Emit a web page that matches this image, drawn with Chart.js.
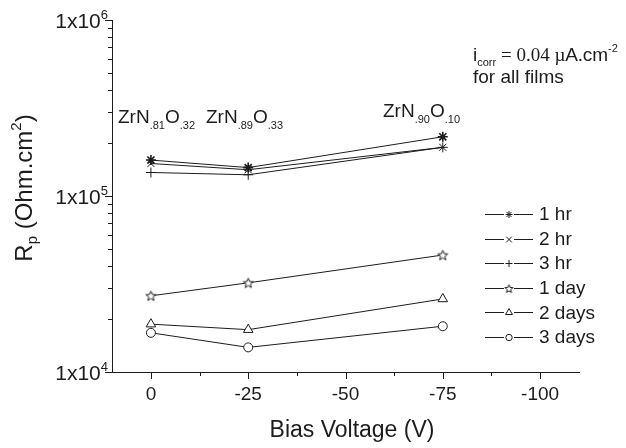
<!DOCTYPE html>
<html>
<head>
<meta charset="utf-8">
<script src="https://cdn.jsdelivr.net/npm/chart.js@4.4.0/dist/chart.umd.min.js"></script>
<style>
html, body { margin: 0; padding: 0; background: #fff; }
#wrap { width: 626px; height: 448px; }
</style>
</head>
<body>
<div id="wrap"><canvas id="rpChart" width="626" height="448"></canvas></div>
<script>
// values (Rp in Ohm.cm2)
const biasVoltages = [0, -25, -75];
const rp1hr = [1.60e5, 1.45e5, 2.17e5];
const rp2hr = [1.53e5, 1.41e5, 1.89e5];
const rp3hr = [1.36e5, 1.32e5, 1.89e5];
const rp1day = [2.71e4, 3.21e4, 4.62e4];
const rp2days = [1.87e4, 1.74e4, 2.60e4];
const rp3days = [1.67e4, 1.38e4, 1.82e4];
const seriesLabels = ['1 hr', '2 hr', '3 hr', '1 day', '2 days', '3 days'];
const xTickValues = [0, -25, -50, -75, -100];
const xMinorValues = [-12.5, -37.5, -62.5, -87.5];
const yTickExponents = [4, 5, 6];

const SANS = '"Liberation Sans", Arial, sans-serif';
const SERIF = '"Liberation Serif", "Times New Roman", serif';
const INK = '#1c1c1c';

// open five-pointed star, chart.js has no such pointStyle
function makeStar(size, outer, inner) {
    const c = document.createElement('canvas');
    c.width = size; c.height = size;
    const g = c.getContext('2d');
    const cx = size / 2, cy = size / 2 + 0.5;
    g.beginPath();
    for (let i = 0; i < 10; i++) {
        const r = i % 2 === 0 ? outer : inner;
        const a = -Math.PI / 2 + i * Math.PI / 5;
        const px = cx + r * Math.cos(a), py = cy + r * Math.sin(a);
        if (i === 0) g.moveTo(px, py); else g.lineTo(px, py);
    }
    g.closePath();
    g.fillStyle = '#fff';
    g.fill();
    g.strokeStyle = INK;
    g.lineWidth = 1;
    g.stroke();
    return c;
}
const starBig = makeStar(13, 5.2, 2.3);
const starSmall = makeStar(11, 4.3, 1.9);

const seriesValues = [rp1hr, rp2hr, rp3hr, rp1day, rp2days, rp3days];
const seriesStyles = [
    { style: 'star', r: 5, bw: 1.6, legendStyle: 'star', lr: 3.5 },
    { style: 'crossRot', r: 5, bw: 1, legendStyle: 'crossRot', lr: 4 },
    { style: 'cross', r: 5, bw: 1, legendStyle: 'cross', lr: 3.5 },
    { style: starBig, r: 5, bw: 1, legendStyle: starSmall, lr: 3.5 },
    { style: 'triangle', r: 5.5, bw: 1, legendStyle: 'triangle', lr: 4 },
    { style: 'circle', r: 4.5, bw: 1, legendStyle: 'circle', lr: 3.2 }
];

const datasets = seriesLabels.map((label, i) => ({
    label: label,
    data: biasVoltages.map((v, j) => ({ x: v, y: seriesValues[i][j] })),
    borderColor: INK,
    borderWidth: 1,
    pointStyle: seriesStyles[i].style,
    pointRadius: seriesStyles[i].r,
    pointBorderWidth: seriesStyles[i].bw,
    pointBorderColor: INK,
    pointBackgroundColor: '#fff',
    tension: 0
}));

// draw a row of text pieces (normal / sub / superscript) starting at x
function drawRuns(ctx, runs, x, y, align) {
    let total = 0;
    runs.forEach(r => {
        ctx.font = r.size + 'px ' + (r.serif ? SERIF : SANS);
        r.w = ctx.measureText(r.t).width;
        total += r.w;
    });
    let cx = x;
    if (align === 'right') cx = x - total;
    if (align === 'center') cx = x - total / 2;
    ctx.textAlign = 'left';
    ctx.textBaseline = 'alphabetic';
    runs.forEach(r => {
        ctx.font = r.size + 'px ' + (r.serif ? SERIF : SANS);
        ctx.fillText(r.t, cx, y + (r.dy || 0));
        cx += r.w;
    });
}

const figureText = {
    id: 'figureText',
    afterDraw(chart) {
        const ctx = chart.ctx;
        const xs = chart.scales.x, ys = chart.scales.y;
        const left = chart.chartArea.left, bottom = chart.chartArea.bottom;
        ctx.save();
        ctx.strokeStyle = INK;
        ctx.fillStyle = INK;
        ctx.lineWidth = 1;

        // y ticks, major and minor
        ctx.beginPath();
        yTickExponents.forEach((e, k) => {
            const yp = Math.round(ys.getPixelForValue(Math.pow(10, e))) + 0.5;
            ctx.moveTo(left - 7, yp); ctx.lineTo(left, yp);
            if (k < yTickExponents.length - 1) {
                for (let m = 2; m <= 9; m++) {
                    const ym = Math.round(ys.getPixelForValue(m * Math.pow(10, e))) + 0.5;
                    ctx.moveTo(left - 4, ym); ctx.lineTo(left, ym);
                }
            }
        });
        // x ticks
        xTickValues.forEach(v => {
            const xp = Math.round(xs.getPixelForValue(v)) + 0.5;
            ctx.moveTo(xp, bottom); ctx.lineTo(xp, bottom + 7);
        });
        xMinorValues.forEach(v => {
            const xp = Math.round(xs.getPixelForValue(v)) + 0.5;
            ctx.moveTo(xp, bottom); ctx.lineTo(xp, bottom + 4);
        });
        ctx.stroke();

        // tick labels
        yTickExponents.forEach(e => {
            const yp = ys.getPixelForValue(Math.pow(10, e));
            drawRuns(ctx, [
                { t: '1x10', size: 21 },
                { t: String(e), size: 13, dy: -9 }
            ], 108, yp + 8, 'right');
        });
        ctx.font = '19px ' + SANS;
        ctx.textAlign = 'center';
        ctx.textBaseline = 'alphabetic';
        xTickValues.forEach(v => {
            ctx.fillText(String(v), xs.getPixelForValue(v), 400);
        });

        // axis titles
        ctx.font = '23px ' + SANS;
        ctx.fillText('Bias Voltage (V)', 352, 437);
        ctx.save();
        ctx.translate(32, 188);
        ctx.rotate(-Math.PI / 2);
        drawRuns(ctx, [
            { t: 'R', size: 24 },
            { t: 'p', size: 15, dy: 5 },
            { t: ' (Ohm.cm', size: 24 },
            { t: '2', size: 15, dy: -11 },
            { t: ')', size: 24 }
        ], 0, 0, 'center');
        ctx.restore();

        // film compositions
        const films = [
            ['.81', '.32', 118, 123],
            ['.89', '.33', 206, 123],
            ['.90', '.10', 383, 117]
        ];
        films.forEach(f => {
            drawRuns(ctx, [
                { t: 'ZrN', size: 19 },
                { t: f[0], size: 11, dy: 6 },
                { t: 'O', size: 19 },
                { t: f[1], size: 11, dy: 6 }
            ], f[2], f[3], 'left');
        });

        // corrosion current note
        drawRuns(ctx, [
            { t: 'i', size: 19 },
            { t: 'corr', size: 11, dy: 5 },
            { t: ' = 0.04 \u00b5', size: 19, serif: true },
            { t: 'A', size: 19 },
            { t: '.', size: 19, serif: true },
            { t: 'cm', size: 19 },
            { t: '-2', size: 11, dy: -9 }
        ], 473, 61, 'left');
        drawRuns(ctx, [{ t: 'for all films', size: 19 }], 473, 83, 'left');

        // legend
        const helpers = Chart.helpers;
        seriesLabels.forEach((label, i) => {
            const yc = 214 + i * 24.6;
            ctx.beginPath();
            ctx.moveTo(485, Math.round(yc) + 0.5); ctx.lineTo(504, Math.round(yc) + 0.5);
            ctx.moveTo(514, Math.round(yc) + 0.5); ctx.lineTo(533, Math.round(yc) + 0.5);
            ctx.stroke();
            ctx.save();
            ctx.fillStyle = '#fff';
            ctx.strokeStyle = INK;
            ctx.lineWidth = 1;
            helpers.drawPoint(ctx, {
                pointStyle: seriesStyles[i].legendStyle,
                radius: seriesStyles[i].lr,
                borderWidth: 1,
                rotation: 0
            }, 509, Math.round(yc) + 0.5);
            ctx.restore();
            ctx.font = '19px ' + SANS;
            ctx.textAlign = 'left';
            ctx.textBaseline = 'middle';
            ctx.fillText(label, 539, yc + 1);
        });
        ctx.restore();
    }
};

new Chart(document.getElementById('rpChart').getContext('2d'), {
    type: 'line',
    data: { datasets: datasets },
    options: {
        responsive: false,
        animation: false,
        layout: { padding: { top: 20, right: 47, left: 0, bottom: 0 } },
        plugins: {
            legend: { display: false },
            tooltip: { enabled: false }
        },
        scales: {
            x: {
                type: 'linear',
                reverse: true,
                min: -110,
                max: 10,
                grid: { display: false },
                ticks: { display: false },
                border: { display: true, color: INK, width: 1 },
                afterFit: (scale) => { scale.height = 76; }
            },
            y: {
                type: 'logarithmic',
                min: 1e4,
                max: 1e6,
                grid: { display: false },
                ticks: { display: false },
                border: { display: true, color: INK, width: 1 },
                afterFit: (scale) => { scale.width = 112; }
            }
        }
    },
    plugins: [figureText]
});
</script>
</body>
</html>
